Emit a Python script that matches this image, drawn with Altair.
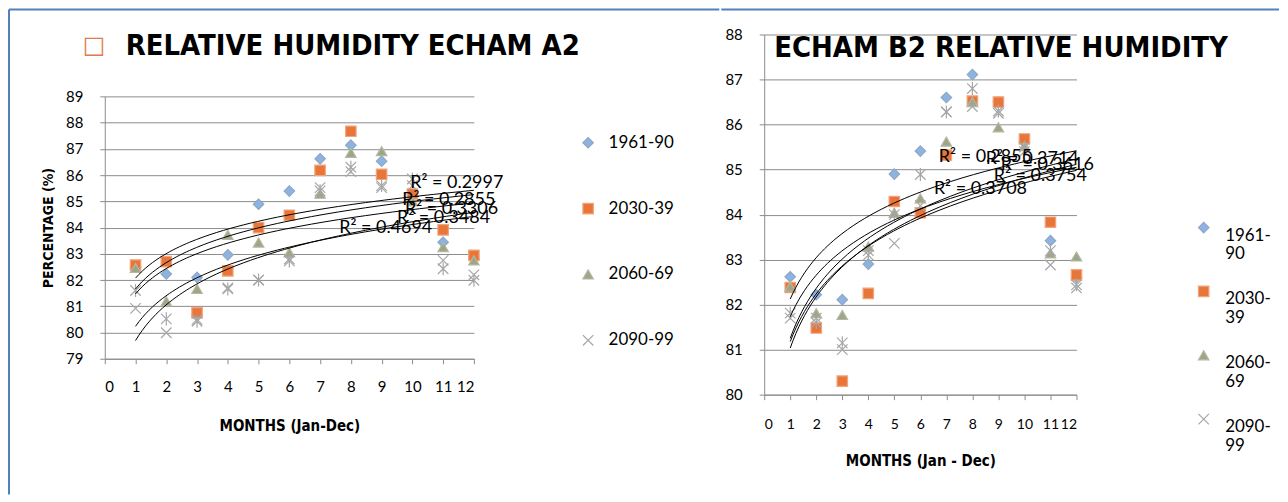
import altair as alt
import pandas as pd

# ---------------- data ----------------
MONTHS = list(range(1, 13))
SERIES = ["1961-90", "2030-39", "2060-69", "2090-99"]
EXTRA = "series 5"  # fifth plotted series (star marker) with no legend entry

# ECHAM A2 (left chart)
A2_1961 = [82.5, 82.23, 82.1, 82.96, 84.89, 85.39, 86.62, 87.14, 86.53, 85.2, 83.44, 82.8]
A2_2030 = [82.57, 82.7, 80.75, 82.35, 84.0, 84.47, 86.18, 87.67, 86.03, 85.28, 83.91, 82.94]
A2_2060 = [82.46, 81.19, 81.66, 83.72, 83.43, 83.05, 85.29, 86.85, 86.91, 85.0, 83.25, 82.75]
A2_2090 = [80.92, 79.99, 80.5, 81.7, 82.0, 82.8, 85.52, 86.13, 85.52, 85.6, 82.75, 82.2]
A2_EXTRA = [81.6, 80.52, 80.43, 81.66, 82.0, 82.73, 85.4, 86.3, 85.6, 85.85, 82.43, 81.99]

A2_R2_TEXT = ["R² = 0.2997", "R² = 0.2855", "R² = 0.3306", "R² = 0.3484", "R² = 0.4694"]
A2_R2_X = [9.93, 9.67, 9.76, 9.5, 7.62]
A2_R2_Y = [85.70, 85.05, 84.70, 84.37, 83.98]

# ECHAM B2 (right chart)
B2_1961 = [82.62, 82.22, 82.11, 82.9, 84.9, 85.41, 86.6, 87.11, 86.5, 85.6, 83.42, 82.6]
B2_2030 = [82.38, 81.48, 80.3, 82.25, 84.29, 84.04, 85.32, 86.52, 86.5, 85.68, 83.83, 82.66]
B2_2060 = [82.4, 81.81, 81.77, 83.29, 84.04, 84.36, 85.62, 86.5, 85.94, 85.52, 83.14, 83.07]
B2_2090 = [81.7, 81.7, 81.0, 83.2, 83.36, 84.2, 86.28, 86.4, 86.25, 85.4, 82.88, 82.37]
B2_EXTRA = [81.81, 81.6, 81.15, 83.1, 84.0, 84.89, 86.28, 86.8, 86.3, 85.5, 83.2, 82.44]

B2_R2_TEXT = ["R² = 0.2855", "R² = 0.3714", "R² = 0.3616", "R² = 0.3754", "R² = 0.3708"]
B2_R2_X = [6.71, 8.51, 9.09, 8.82, 6.52]
B2_R2_Y = [85.29, 85.23, 85.10, 84.85, 84.56]

A2_TITLE = "RELATIVE HUMIDITY ECHAM A2"
B2_TITLE = "ECHAM B2 RELATIVE HUMIDITY"

# ---------------- styles ----------------
FONT = "Lato"
BOLD_FONT = "DejaVu Sans Condensed, Liberation Sans Narrow, DejaVu Sans"
GRID = "#8C8C8C"
BORDER = "#4F81BD"
X_PATH = "M-1,-1L1,1M-1,1L1,-1"
STAR_PATH = "M-1,-1L1,1M-1,1L1,-1M0,-1.25L0,1.25"
SHAPES = ["diamond", "square", "triangle-up", X_PATH]
FILLS = ["#8DB3E2", "#E8763A", "#9EA68A", "#A6A6A6"]
STROKES = ["#8FA7C4", "#F2A47A", "#B3B89E", "#A6A6A6"]


def long_df(cols):
    rows = []
    for name, vals in cols:
        for m, v in zip(MONTHS, vals):
            rows.append({"month": m, "value": v, "series": name})
    return pd.DataFrame(rows)


def panel(df, r2, ydom, yrange, width, height, xtitle, ytitle, xlabpad, xtitlepad,
          xlabsize, legend, title_layers, border_layers):
    xvals = list(range(0, 13))
    yvals = list(range(ydom[0], ydom[1] + 1))
    x = alt.X("month:Q", scale=alt.Scale(domain=[0, 12], nice=False),
              axis=alt.Axis(values=xvals, tickCount=len(xvals), grid=False, tickSize=5,
                            tickColor=GRID, domainColor=GRID, labelFont=FONT,
                            labelFontSize=xlabsize, labelColor="black", labelOverlap=False,
                            labelPadding=xlabpad, title=xtitle, titleFont=BOLD_FONT,
                            titleFontSize=15, titleFontWeight="bold",
                            titleColor="black", titlePadding=xtitlepad))
    y = alt.Y("value:Q", scale=alt.Scale(domain=ydom, range=yrange, nice=False, zero=False),
              axis=alt.Axis(values=yvals, tickCount=len(yvals), grid=True,
                            gridColor=GRID, tickSize=5, tickColor=GRID,
                            domainColor=GRID, labelFont=FONT, labelFontSize=15,
                            labelColor="black", labelPadding=17, labelOverlap=False,
                            title=ytitle, titleFont=BOLD_FONT, titleFontSize=14,
                            titleFontWeight="bold", titleColor="black",
                            titlePadding=10))
    base = alt.Chart(df)
    pts = base.transform_filter(alt.FieldOneOfPredicate(field="series", oneOf=SERIES)).mark_point(
        filled=True, size=110, strokeWidth=1.2, opacity=1
    ).encode(
        x=x, y=y,
        shape=alt.Shape("series:N", scale=alt.Scale(domain=SERIES, range=SHAPES), legend=legend),
        fill=alt.Fill("series:N", scale=alt.Scale(domain=SERIES, range=FILLS), legend=legend),
        stroke=alt.Stroke("series:N", scale=alt.Scale(domain=SERIES, range=STROKES), legend=legend),
    )
    extra = base.transform_filter(alt.datum.series == EXTRA).mark_point(
        shape=STAR_PATH, filled=False, size=110, strokeWidth=1.2, color="#A6A6A6", opacity=1
    ).encode(x="month:Q", y="value:Q")
    trend = base.transform_regression(
        "month", "value", groupby=["series"], method="log"
    ).mark_line(color="black", strokeWidth=1).encode(x="month:Q", y="value:Q", detail="series:N")
    labels = alt.Chart(r2).mark_text(
        align="left", baseline="middle", font=FONT, fontSize=18, color="black"
    ).encode(x="x:Q", y="y:Q", text="t:N")
    return alt.layer(*border_layers, pts, extra, trend, labels, *title_layers).properties(
        width=width, height=height
    )


one = pd.DataFrame({"k": [0]})


def hline(x1, x2, yv):
    return alt.Chart(one).mark_rule(color=BORDER, strokeWidth=2).encode(
        x=alt.value(x1), x2=alt.value(x2), y=alt.value(yv))


def vline(xv, y1, y2):
    return alt.Chart(one).mark_rule(color=BORDER, strokeWidth=2).encode(
        x=alt.value(xv), y=alt.value(y1), y2=alt.value(y2))


def title_text(text, xv, yv, size, color="black", font=BOLD_FONT, weight="bold"):
    return alt.Chart(pd.DataFrame({"t": [text]})).mark_text(
        align="left", baseline="middle", font=font, fontSize=size,
        fontWeight=weight, color=color
    ).encode(x=alt.value(xv), y=alt.value(yv), text="t:N")


a2 = long_df([(SERIES[0], A2_1961), (SERIES[1], A2_2030), (SERIES[2], A2_2060),
              (SERIES[3], A2_2090), (EXTRA, A2_EXTRA)])
b2 = long_df([(SERIES[0], B2_1961), (SERIES[1], B2_2030), (SERIES[2], B2_2060),
              (SERIES[3], B2_2090), (EXTRA, B2_EXTRA)])
a2_r2 = pd.DataFrame({"t": A2_R2_TEXT, "x": A2_R2_X, "y": A2_R2_Y})
b2_r2 = pd.DataFrame({"t": B2_R2_TEXT, "x": B2_R2_X, "y": B2_R2_Y})

left_legend = alt.Legend(title=None, orient="none", legendX=476, legendY=100,
                         direction="vertical", padding=0, rowPadding=48,
                         symbolSize=110, symbolStrokeWidth=1.2, labelFont=FONT,
                         labelFontSize=17, labelColor="black", labelOffset=12)
right_legend = alt.Legend(title=None, orient="none", legendX=432, legendY=185,
                          direction="vertical", padding=0, rowPadding=20,
                          symbolSize=110, symbolStrokeWidth=1.2, labelFont=FONT,
                          labelFontSize=17, labelColor="black", labelOffset=13,
                          labelExpr="[slice(datum.label,0,5), slice(datum.label,5)]",
                          labelBaseline="top")

left = panel(
    a2, a2_r2, [79, 89], [325, 62], 370, 325, "MONTHS (Jan-Dec)", "PERCENTAGE (%)", 16, 24,
    15, left_legend,
    [title_text("□", -22, 12, 24, color="#E07B4F", font="DejaVu Sans", weight="normal"),
     title_text(A2_TITLE, 21, 12, 29)],
    [vline(-96, -25, 461), hline(-96, 616, -25)],
)
right = panel(
    b2, b2_r2, [80, 88], [361, 0], 313, 361, "MONTHS (Jan - Dec)", None, 18, 22,
    14, right_legend,
    [title_text(B2_TITLE, 10, 14, 29)],
    [hline(-43, 516, -25)],
)

chart = alt.hconcat(left, right, spacing=0).resolve_scale(
    shape="independent", fill="independent", stroke="independent"
).resolve_legend(
    shape="independent", fill="independent", stroke="independent"
).properties(
    padding={"left": 0, "top": 0, "right": 0, "bottom": 0}
).configure_view(stroke=None)

chart.save("out.html", embed_options={"renderer": "svg", "actions": False})
